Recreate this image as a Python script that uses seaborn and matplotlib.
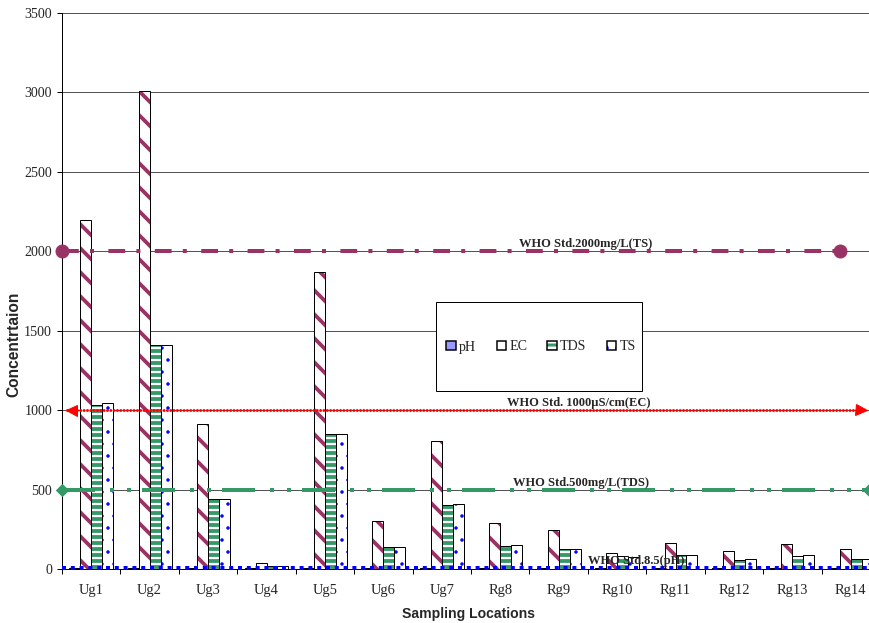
import numpy as np
import pandas as pd
import matplotlib
matplotlib.use("Agg")
import matplotlib.pyplot as plt
from matplotlib.patches import Rectangle, Patch
from matplotlib.legend_handler import HandlerTuple
import seaborn as sns

# ---- data -------------------------------------------------------------
locations = ["Ug1", "Ug2", "Ug3", "Ug4", "Ug5", "Ug6", "Ug7",
             "Rg8", "Rg9", "Rg10", "Rg11", "Rg12", "Rg13", "Rg14"]
ph = [7.2, 7.4, 7.1, 7.6, 7.3, 7.5, 7.2, 7.8, 7.4, 7.6, 7.3, 7.7, 7.5, 7.4]
ec = [2200, 3010, 910, 40, 1870, 305, 805, 290, 245, 100, 162, 113, 157, 126]
tds = [1030, 1410, 440, 22, 850, 138, 403, 147, 124, 80, 88, 57, 82, 63]
ts = [1043, 1410, 440, 20, 850, 138, 409, 149, 126, 75, 86, 63, 88, 65]
parameters = ["pH", "EC", "TDS", "TS"]

who_values = [2000, 1000, 500, 8.5]
who_labels = ["WHO Std.2000mg/L(TS)", "WHO Std. 1000\u00b5S/cm(EC)",
              "WHO Std.500mg/L(TDS)", "WHO Std.8.5(pH)"]
y_ticks = [0, 500, 1000, 1500, 2000, 2500, 3000, 3500]

# ---- styling ----------------------------------------------------------
MAROON, GREEN, RED, BLUE = "#993366", "#339966", "#FF0000", "#0000FF"
SERIF, SANS = "Liberation Serif", "Liberation Sans"

sns.set_theme(style="white")
plt.rcParams["font.family"] = [SERIF, "DejaVu Serif"]
plt.rcParams["hatch.linewidth"] = 3.0

bar_style = {
    "pH": dict(face="#9999FF", hatch=None, hcolor="black", hlw=1.0),
    "EC": dict(face="white", hatch="\\", hcolor=MAROON, hlw=3.8),
    "TDS": dict(face="white", hatch="--", hcolor=GREEN, hlw=3.8),
    "TS": dict(face="white", hatch=".", hcolor=BLUE, hlw=1.0),
}

df = pd.DataFrame({"Location": locations, "pH": ph, "EC": ec,
                   "TDS": tds, "TS": ts})
long_df = df.melt(id_vars="Location", var_name="Parameter",
                  value_name="Concentration")

W, H = 869, 623
fig = plt.figure(figsize=(W / 72, H / 72), dpi=72)
fig.patch.set_facecolor("white")
ax = fig.add_axes([62 / W, 1 - 569 / H, (880 - 62) / W, (569 - 13) / H])

sns.barplot(data=long_df, x="Location", y="Concentration", hue="Parameter",
            hue_order=parameters, order=locations,
            palette={p: bar_style[p]["face"] for p in parameters},
            width=0.75, saturation=1, errorbar=None, legend=False, ax=ax,
            zorder=2)

# hatched fills, then a black outline on top of each bar
for container, param in zip(ax.containers, parameters):
    st = bar_style[param]
    for bar in container:
        bar.set_facecolor(st["face"])
        if st["hatch"]:
            bar.set_hatch(st["hatch"])
            bar.set_edgecolor(st["hcolor"])
            bar.set_linewidth(0)
            if hasattr(bar, "set_hatch_linewidth"):
                bar.set_hatch_linewidth(st["hlw"])
        else:
            bar.set_edgecolor("black")
            bar.set_linewidth(0)
        ax.add_patch(Rectangle(bar.get_xy(), bar.get_width(), bar.get_height(),
                               fill=False, edgecolor="black", lw=1.0,
                               zorder=2.5))

# ---- axes -------------------------------------------------------------
n = len(locations)
ax.set_xlim(-0.5, n - 0.5)
ax.set_ylim(0, 3500)
ax.set_yticks(y_ticks)
ax.set_yticklabels([str(v) for v in y_ticks], fontsize=14, family=SERIF)
ax.set_xticks(np.arange(-0.5, n, 1.0), labels=[""] * (n + 1))
ax.set_xticks(np.arange(n), labels=locations, minor=True)
for lab in ax.get_xticklabels(minor=True):
    lab.set_fontsize(14.5)
    lab.set_family(SERIF)
ax.tick_params(axis="x", which="major", length=5, width=1, direction="out",
               color="black", bottom=True)
ax.tick_params(axis="x", which="minor", length=0, pad=15, bottom=True)
ax.tick_params(axis="y", length=5, width=1, direction="out", color="black",
               pad=5, left=True)
ax.set_xlabel("")
ax.set_ylabel("")
ax.yaxis.grid(True, color="#404040", lw=0.9)
ax.set_axisbelow(True)
for side in ("top", "right"):
    ax.spines[side].set_visible(False)
for side in ("left", "bottom"):
    ax.spines[side].set_color("black")
    ax.spines[side].set_linewidth(1.0)

# ---- guideline values --------------------------------------------------
x_left = ax.get_xlim()[0]
x_edge = ax.transData.inverted().transform(fig.transFigure.transform((1, 0)))[0]

# TS guideline (dash-dot, round end markers)
ax.plot([x_left, x_edge - 0.5], [who_values[0]] * 2, color=MAROON, lw=4,
        dashes=(4.2, 2.8, 1.0, 3.6), dash_capstyle="butt", marker="o",
        ms=13, zorder=4, clip_on=False)
# EC guideline (fine dots, arrow ends)
ax.plot([x_left + 0.08, x_edge - 0.08], [who_values[1]] * 2, color=RED, lw=3,
        linestyle=(0, (0.01, 1.1)), dash_capstyle="round", zorder=4,
        clip_on=False)
ax.plot([x_left + 0.15], [who_values[1]], marker="<", ms=11, color=RED,
        zorder=4, clip_on=False)
ax.plot([x_edge - 0.14], [who_values[1]], marker=">", ms=11, color=RED,
        zorder=4, clip_on=False)
# TDS guideline (long dash, two dots)
ax.plot([x_left, x_edge], [who_values[2]] * 2, color=GREEN, lw=4,
        dashes=(8.25, 3.75, 1.0, 3.25, 1.0, 2.75), dash_capstyle="butt",
        marker="D", ms=8.5, zorder=4, clip_on=False)
# pH guideline (square dots)
ax.plot([x_left, x_edge], [who_values[3]] * 2, color=BLUE, lw=4,
        dashes=(1.0, 1.2), dash_capstyle="butt", zorder=4, clip_on=False)

label_x = [8.46, 8.34, 8.39, 9.33]
for lx, val, txt in zip(label_x, who_values, who_labels):
    ax.annotate(txt, xy=(lx, val), xytext=(0, 7), textcoords="offset points",
                ha="center", va="center", fontsize=12.5, fontweight="bold",
                family=SERIF, zorder=6)

# ---- legend -----------------------------------------------------------
fig.add_artist(Rectangle((436 / W, 1 - 391 / H), 206 / W, 89 / H,
                         transform=fig.transFigure, facecolor="white",
                         edgecolor="black", lw=1.0, zorder=5))
handles = []
for p in parameters:
    st = bar_style[p]
    if st["hatch"]:
        fill = Patch(facecolor=st["face"], edgecolor=st["hcolor"],
                     hatch=st["hatch"], lw=0)
    else:
        fill = Patch(facecolor=st["face"], edgecolor="none", lw=0)
    outline = Patch(facecolor="none", edgecolor="black", lw=1.5)
    handles.append((fill, outline))
leg = fig.legend(handles, parameters, loc="center",
                 bbox_to_anchor=(541 / W, 1 - 347 / H), ncol=4, frameon=False,
                 handlelength=0.65, handleheight=0.65, handletextpad=0.25,
                 columnspacing=1.45, prop={"family": SERIF, "size": 14},
                 handler_map={tuple: HandlerTuple(ndivide=1, pad=0)})
leg.set_zorder(6)

# ---- axis titles ------------------------------------------------------
fig.text(14 / W, 1 - 344 / H, "Concentrtaion", rotation=90, ha="center",
         va="center", fontsize=15.5, fontweight="bold", family=SANS)
fig.text(469 / W, 1 - 614 / H, "Sampling Locations", ha="center",
         va="center", fontsize=14, fontweight="bold", family=SANS)

fig.savefig("out.png", dpi=72, facecolor="white")
